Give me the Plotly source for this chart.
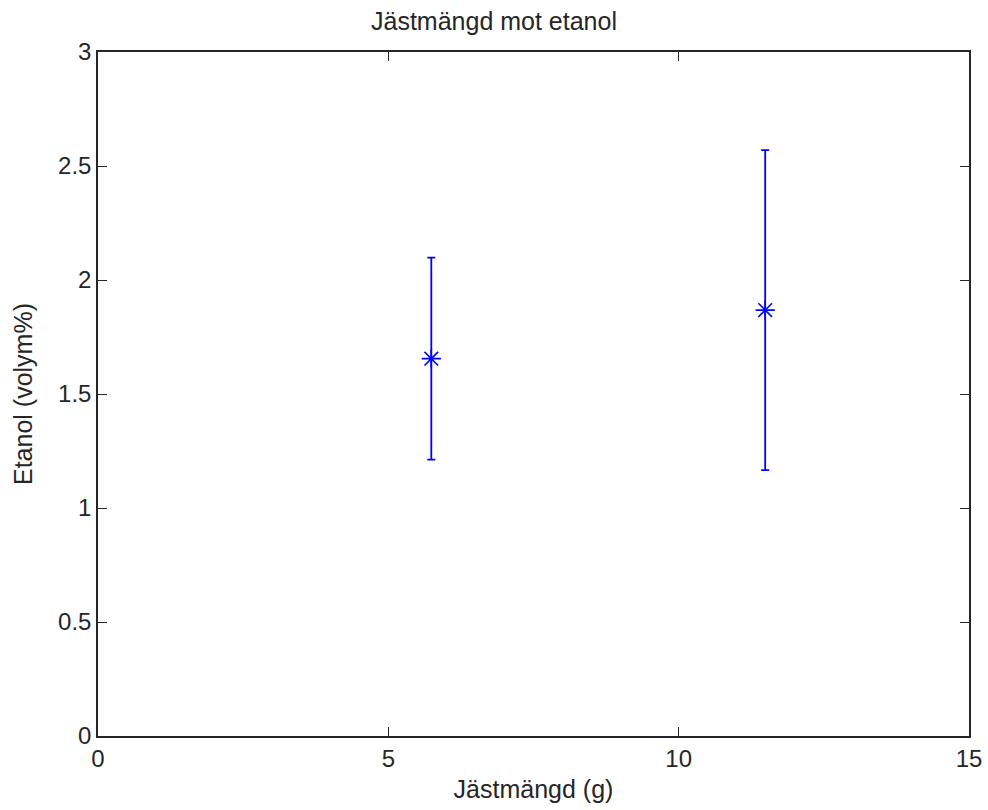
import plotly.graph_objects as go

# Data
jast = [5.74, 11.49]            # Jästmängd (g)
etanol = [1.655, 1.868]         # Etanol (volym%)
err = [0.443, 0.702]            # error (±)

xticks = [0, 5, 10, 15]
xticklabels = ["0", "5", "10", "15"]
yticks = [0, 0.5, 1, 1.5, 2, 2.5, 3]
yticklabels = ["0", "0.5", "1", "1.5", "2", "2.5", "3"]

FONT = "Liberation Sans"
FS_TICK = 24
FS_TITLE = 25

fig = go.Figure()
fig.add_trace(go.Scatter(
    x=jast, y=etanol, mode="markers",
    marker=dict(symbol="asterisk-open", size=16, color="#0000ff",
                line=dict(color="#0000ff", width=1.6)),
    error_y=dict(type="data", array=err, visible=True, color="#0000ff",
                 thickness=1.8, width=4),
    showlegend=False,
))

axis_common = dict(
    showline=True, linecolor="#262626", linewidth=1.5, mirror="ticks",
    ticks="inside", ticklen=9, tickwidth=1.2, tickcolor="#262626",
    showgrid=False, zeroline=False, automargin=False,
    tickfont=dict(family=FONT, size=FS_TICK, color="#262626"),
)

fig.update_layout(
    width=988, height=810,
    margin=dict(l=98, r=19, t=52, b=74, autoexpand=False),
    paper_bgcolor="white", plot_bgcolor="white",
    font=dict(family=FONT, size=FS_TICK, color="#262626"),
    title=dict(text="Jästmängd mot etanol", x=0.5, xanchor="center",
               y=1 - 21 / 810, yanchor="middle",
               font=dict(family=FONT, size=FS_TITLE, color="#262626")),
    xaxis=dict(range=[0, 15], tickvals=xticks, ticktext=xticklabels,
               title=dict(text="Jästmängd (g)", standoff=10,
                          font=dict(family=FONT, size=FS_TITLE, color="#262626")),
               **axis_common),
    yaxis=dict(range=[0, 3], tickvals=yticks, ticktext=yticklabels,
               title=dict(text="Etanol (volym%)", standoff=18,
                          font=dict(family=FONT, size=FS_TITLE, color="#262626")),
               **axis_common),
)

fig.write_html("out.html")
